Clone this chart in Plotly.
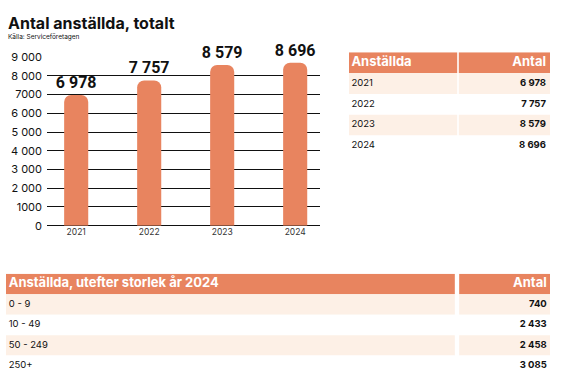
import plotly.graph_objects as go

# ---- data ----
years = ["2021", "2022", "2023", "2024"]
employees = [6978, 7757, 8579, 8696]
y_tick_vals = [0, 1000, 2000, 3000, 4000, 5000, 6000, 7000, 8000, 9000]
y_tick_text = ["0", "1000", "2 000", "3 000", "4 000", "5 000", "6 000", "7000", "8 000", "9 000"]

size_groups = ["0 - 9", "10 - 49", "50 - 249", "250+"]
size_counts = [740, 2433, 2458, 3085]

title = "Antal anställda, totalt"
source = "Källa: Serviceföretagen"
table1_header = ["Anställda", "Antal"]
table2_header = ["Anställda, utefter storlek år 2024", "Antal"]

# ---- styling ----
W, H = 561, 383
ORANGE = "#E8845F"
SHADE = "#FDF0E6"
INK = "#111111"
FONT = "Inter, Lato, sans-serif"
LABEL_FONT = "Roboto, Inter, sans-serif"


def fmt(v):
    return f"{v:,}".replace(",", " ")


def px_x(x):
    return min(max(x / W, 0), 1)


def px_y(y):
    return min(max(1 - y / H, 0), 1)


fig = go.Figure()

# ---- bar chart ----
fig.add_trace(go.Bar(
    x=years, y=employees,
    marker=dict(color=ORANGE, cornerradius=7, line=dict(width=0)),
    width=0.33,
    text=[f"<b>{fmt(v)}</b>" for v in employees],
    textposition="outside",
    constraintext="none",
    textfont=dict(family=LABEL_FONT, size=16, color=INK),
    cliponaxis=False,
    hoverinfo="skip",
    xaxis="x", yaxis="y",
))


# ---- tables drawn as banded rows on their own axes ----
def add_table(header, labels, values, xa, ya, split, lpad, rpad):
    n = len(labels) + 1
    rows = list(range(n))
    fills = [ORANGE] + [SHADE if i % 2 == 0 else "white" for i in range(len(labels))]
    gap = 0.004
    fig.add_trace(go.Bar(
        y=rows, x=[split - gap] * n, base=0, orientation="h", width=1,
        marker=dict(color=fills, line=dict(width=0)),
        hoverinfo="skip", xaxis=xa, yaxis=ya,
    ))
    fig.add_trace(go.Bar(
        y=rows, x=[1 - split - gap] * n, base=split + gap, orientation="h", width=1,
        marker=dict(color=fills, line=dict(width=0)),
        hoverinfo="skip", xaxis=xa, yaxis=ya,
    ))
    colors = ["white"] + [INK] * len(labels)
    sizes = [13] + [9.5] * len(labels)
    fig.add_trace(go.Scatter(
        y=rows, x=[lpad] * n, mode="text",
        text=[f"<b>{header[0]}</b>"] + labels,
        textposition="middle right",
        textfont=dict(family=FONT, size=sizes, color=colors),
        hoverinfo="skip", xaxis=xa, yaxis=ya, cliponaxis=False,
    ))
    fig.add_trace(go.Scatter(
        y=rows, x=[1 - rpad] * n, mode="text",
        text=[f"<b>{header[1]}</b>"] + [f"<b>{fmt(v)}</b>" for v in values],
        textposition="middle left",
        textfont=dict(family=FONT, size=sizes, color=colors),
        hoverinfo="skip", xaxis=xa, yaxis=ya, cliponaxis=False,
    ))
    return n


n1 = add_table(table1_header, years, employees, "x2", "y2",
               split=(458 - 349) / (550 - 349), lpad=0.012, rpad=0.02)
n2 = add_table(table2_header, size_groups, size_counts, "x3", "y3",
               split=(457 - 6) / (550 - 6), lpad=0.005, rpad=0.006)

hidden = dict(showgrid=False, zeroline=False, showline=False, showticklabels=False,
              ticks="", fixedrange=True)

fig.update_layout(
    width=W, height=H,
    margin=dict(l=0, r=0, t=0, b=0),
    paper_bgcolor="white", plot_bgcolor="rgba(0,0,0,0)",
    showlegend=False,
    barmode="overlay",
    font=dict(family=FONT, color=INK),
    xaxis=dict(
        domain=[px_x(47), px_x(320)],
        range=[-0.4, 3.34],
        showgrid=False, zeroline=False, showline=False,
        ticks="", tickfont=dict(size=8.5, color="#333"),
        fixedrange=True,
    ),
    yaxis=dict(
        domain=[px_y(227), px_y(52)],
        range=[0, 9000],
        tickvals=y_tick_vals, ticktext=y_tick_text,
        showgrid=True, gridcolor=INK, gridwidth=1,
        zeroline=True, zerolinecolor=INK, zerolinewidth=1,
        showline=False, ticks="",
        tickfont=dict(size=11, color=INK),
        ticklabelstandoff=4,
        fixedrange=True,
        layer="below traces",
    ),
    xaxis2=dict(domain=[px_x(349), px_x(550)], range=[0, 1], anchor="y2", **hidden),
    yaxis2=dict(domain=[px_y(155), px_y(47)], range=[n1 - 0.5, -0.5], anchor="x2", **hidden),
    xaxis3=dict(domain=[px_x(6), px_x(550)], range=[0, 1], anchor="y3", **hidden),
    yaxis3=dict(domain=[px_y(383), px_y(277)], range=[n2 - 0.5, -0.5], anchor="x3", **hidden),
    annotations=[
        dict(text=f"<b>{title}</b>", x=px_x(6), y=px_y(4), xref="paper", yref="paper",
             xanchor="left", yanchor="top", showarrow=False,
             font=dict(family=FONT, size=16, color=INK)),
        dict(text=source, x=px_x(6), y=px_y(25), xref="paper", yref="paper",
             xanchor="left", yanchor="top", showarrow=False,
             font=dict(family=FONT, size=6.5, color=INK)),
    ],
)

fig.write_html("out.html", config={"displayModeBar": False},
               post_script="document.body.style.margin='0';")
